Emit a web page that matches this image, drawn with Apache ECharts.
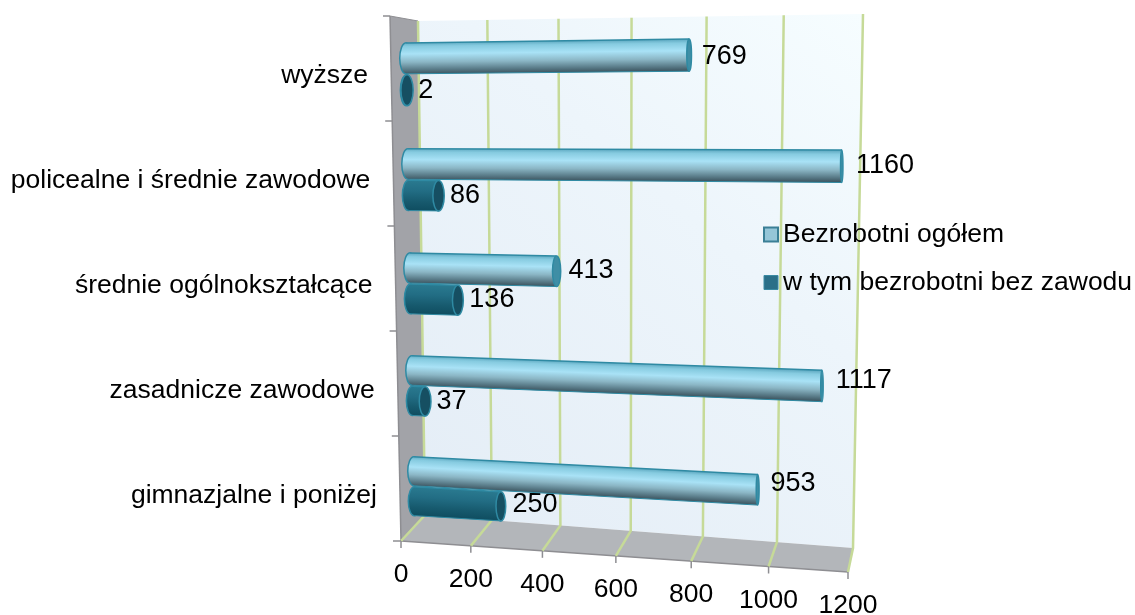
<!DOCTYPE html>
<html>
<head>
<meta charset="utf-8">
<style>html,body{margin:0;padding:0;background:#fff}#main{width:1135px;height:615px}</style>
<script src="https://cdn.jsdelivr.net/npm/echarts@6/dist/echarts.min.js"></script>
</head>
<body>
<div id="main"></div>
<script>
var categories = ['wyższe', 'policealne i średnie zawodowe', 'średnie ogólnokształcące', 'zasadnicze zawodowe', 'gimnazjalne i poniżej'];
var ogolem = [769, 1160, 413, 1117, 953];
var bezZawodu = [2, 86, 136, 37, 250];
var ticks = [0, 200, 400, 600, 800, 1000, 1200];
var FONT = 'Liberation Sans';

// rzut perspektywiczny: kwadrat jednostkowy -> czworokat
function homography(q) {
  var dx1 = q[1][0] - q[2][0], dx2 = q[3][0] - q[2][0], sx = q[0][0] - q[1][0] + q[2][0] - q[3][0];
  var dy1 = q[1][1] - q[2][1], dy2 = q[3][1] - q[2][1], sy = q[0][1] - q[1][1] + q[2][1] - q[3][1];
  var den = dx1 * dy2 - dx2 * dy1;
  var g = (sx * dy2 - dx2 * sy) / den, h = (dx1 * sy - sx * dy1) / den;
  var a = q[1][0] - q[0][0] + g * q[1][0], b = q[3][0] - q[0][0] + h * q[3][0];
  var d = q[1][1] - q[0][1] + g * q[1][1], e = q[3][1] - q[0][1] + h * q[3][1];
  return function (u, v) {
    var w = g * u + h * v + 1;
    return [(a * u + b * v + q[0][0]) / w, (d * u + e * v + q[0][1]) / w];
  };
}
var wallBack = homography([[418, 21], [863, 14], [853, 548], [425, 515]]);
var barPlane = homography([[405, 21], [860, 13], [852, 564], [415, 536]]);
var frontL = [401, 541], frontR = [848, 572];

function norm(params, api, v, cat) {
  var cs = params.coordSys, p = api.coord([v, cat]);
  return [(p[0] - cs.x) / cs.width, (p[1] - cs.y) / cs.height];
}
function frontAt(u) {
  var b0 = wallBack(0, 1)[0], b1 = wallBack(1, 1)[0];
  var f = (wallBack(u, 1)[0] - b0) / (b1 - b0);
  return [frontL[0] + f * (frontR[0] - frontL[0]), frontL[1] + f * (frontR[1] - frontL[1])];
}

var lightStops = [
  {offset: 0, color: '#5fa9c1'}, {offset: 0.12, color: '#86cbe0'}, {offset: 0.36, color: '#a9e2f6'},
  {offset: 0.62, color: '#8bb6c5'}, {offset: 0.85, color: '#5a7c89'}, {offset: 1, color: '#3d5560'}
];
var darkStops = [
  {offset: 0, color: '#2a7a90'}, {offset: 0.35, color: '#226d84'},
  {offset: 0.7, color: '#175a6e'}, {offset: 1, color: '#0f4d60'}
];

function barItem(stops, capFill, shift) {
  return function (params, api) {
    var v = api.value(0), cat = api.value(1);
    var n0 = norm(params, api, 0, cat), n1 = norm(params, api, v, cat);
    var half = 0.145 * api.size([0, 1])[1] / params.coordSys.height;
    var w = n0[1] + shift;
    var lt = barPlane(0, w - half), lb = barPlane(0, w + half);
    var rt = barPlane(n1[0], w - half), rb = barPlane(n1[0], w + half);
    var lc = [(lt[0] + lb[0]) / 2, (lt[1] + lb[1]) / 2], rc = [(rt[0] + rb[0]) / 2, (rt[1] + rb[1]) / 2];
    var hw = Math.max(1.2, 6 * (865 - rc[0]) / 450);
    var lw = 6;
    var mx = (lc[0] + rc[0]) / 2, my = (lc[1] + rc[1]) / 2;
    var h = (lb[1] - lt[1] + rb[1] - rt[1]) / 4;
    var len = Math.max(1, Math.hypot(rc[0] - lc[0], rc[1] - lc[1]));
    var nx = -(rc[1] - lc[1]) / len, ny = (rc[0] - lc[0]) / len;
    var fill = new echarts.graphic.LinearGradient(mx - nx * h, my - ny * h, mx + nx * h, my + ny * h, stops, true);
    var edge = '#2f8aa3';
    return {
      type: 'group',
      children: [
        {type: 'ellipse', shape: {cx: lc[0], cy: lc[1], rx: lw, ry: (lb[1] - lt[1]) / 2},
          style: {fill: fill, stroke: edge, lineWidth: 1.5}},
        {type: 'polygon', shape: {points: [lt, rt, rb, lb]}, style: {fill: fill}},
        {type: 'line', shape: {x1: lt[0], y1: lt[1], x2: rt[0], y2: rt[1]}, style: {stroke: edge, lineWidth: 1.5}},
        {type: 'line', shape: {x1: lb[0], y1: lb[1], x2: rb[0], y2: rb[1]}, style: {stroke: edge, lineWidth: 1}},
        {type: 'ellipse', shape: {cx: rc[0], cy: rc[1], rx: hw, ry: (rb[1] - rt[1]) / 2},
          style: {fill: capFill, stroke: edge, lineWidth: 1.5}},
        {type: 'text', x: rc[0] + hw + 5 + (rc[0] - 400) * 0.018, y: rc[1] - 0.35 * (rc[1] - lc[1]),
          style: {text: String(v), font: '27px "' + FONT + '"', fill: '#000', align: 'left', verticalAlign: 'middle'}}
      ]
    };
  };
}

function renderWalls() {
  var tl = [390, 16];
  return {
    type: 'group',
    children: [
      {type: 'polygon', shape: {points: [wallBack(0, 0), wallBack(1, 0), wallBack(1, 1), wallBack(0, 1)]},
        style: {fill: new echarts.graphic.LinearGradient(425, 515, 863, 14, [
          {offset: 0, color: '#e4edf6'}, {offset: 0.6, color: '#edf5fb'}, {offset: 1, color: '#f6fdff'}], true)}},
      {type: 'polygon', shape: {points: [tl, wallBack(0, 0), wallBack(0, 1), frontL]}, style: {fill: '#a2a3a8'}},
      {type: 'polygon', shape: {points: [frontL, wallBack(0, 1), wallBack(1, 1), frontR]}, style: {fill: '#b3b6ba'}},
      {type: 'line', shape: {x1: tl[0], y1: tl[1], x2: wallBack(0, 0)[0], y2: wallBack(0, 0)[1]}, style: {stroke: '#8e8e92', lineWidth: 1}},
      {type: 'line', shape: {x1: tl[0], y1: tl[1], x2: frontL[0], y2: frontL[1]}, style: {stroke: '#8e8e92', lineWidth: 1.5}},
      {type: 'line', shape: {x1: frontL[0], y1: frontL[1], x2: frontR[0], y2: frontR[1]}, style: {stroke: '#8e8e92', lineWidth: 1.5}}
    ]
  };
}

function renderTick(params, api) {
  var v = api.value(0);
  var u = norm(params, api, v, categories[0])[0];
  var top = wallBack(u, 0), bot = wallBack(u, 1), fr = frontAt(u);
  return {
    type: 'group',
    children: [
      {type: 'polyline', shape: {points: [top, bot, fr]}, style: {fill: 'none', stroke: '#c6da98', lineWidth: 2.5}},
      {type: 'line', shape: {x1: fr[0], y1: fr[1], x2: fr[0], y2: fr[1] + 7}, style: {stroke: '#8e8e92', lineWidth: 1.5}},
      {type: 'text', x: fr[0], y: fr[1] + 34,
        style: {text: String(v), font: '26.5px "' + FONT + '"', fill: '#000', align: 'center', verticalAlign: 'middle'}}
    ]
  };
}

function renderCat(params, api) {
  var cs = params.coordSys;
  var idx = params.dataIndex;
  var n = norm(params, api, 0, idx);
  var band = api.size([0, 1])[1] / cs.height;
  var edgeX = function (w) { return 390 + w * (frontL[0] - 390); };
  var edgeY = function (w) { return 16 + w * (frontL[1] - 16); };
  var topW = n[1] - band / 2;
  var tick = {type: 'line', shape: {x1: edgeX(topW) - 7, y1: edgeY(topW), x2: edgeX(topW), y2: edgeY(topW)},
    style: {stroke: '#8e8e92', lineWidth: 1.5}};
  var children = [tick,
    {type: 'text', x: edgeX(n[1]) - 23, y: edgeY(n[1]) + 7,
      style: {text: categories[idx], font: '26.5px "' + FONT + '"', fill: '#000', align: 'right', verticalAlign: 'middle'}}];
  if (idx === categories.length - 1) {
    children.push({type: 'line', shape: {x1: frontL[0] - 8, y1: frontL[1], x2: frontL[0], y2: frontL[1]},
      style: {stroke: '#8e8e92', lineWidth: 1.5}});
  }
  return {type: 'group', children: children};
}

var myChart = echarts.init(document.getElementById('main'), null, {renderer: 'canvas'});
var option = {
  animation: false,
  grid: {left: 400, right: 280, top: 20, bottom: 60},
  xAxis: {type: 'value', min: 0, max: 1200, interval: 200, show: false},
  yAxis: {type: 'category', data: categories, inverse: true, show: false},
  legend: {
    orient: 'vertical', left: 758, top: 216, itemWidth: 14, itemHeight: 14, itemGap: 21,
    textStyle: {fontFamily: FONT, fontSize: 26.5, color: '#000'},
    selectedMode: false,
    data: [
      {name: 'Bezrobotni ogółem', icon: 'rect', itemStyle: {color: '#95c6d8', borderColor: '#3a7f96', borderWidth: 2}},
      {name: 'w tym bezrobotni bez zawodu', icon: 'rect', itemStyle: {color: '#2a6f88', borderColor: '#3a8aa3', borderWidth: 1}}
    ]
  },
  series: [
    {type: 'custom', name: 'sciany', silent: true, z: 1, data: [0], renderItem: renderWalls, encode: {x: 0}},
    {type: 'custom', name: 'siatka', silent: true, z: 2, data: ticks.map(function (t) { return [t]; }),
      renderItem: renderTick, encode: {x: 0}},
    {type: 'custom', name: 'kategorie', silent: true, z: 2, data: categories.map(function (c, i) { return [i]; }),
      renderItem: renderCat, encode: {y: 0}},
    {type: 'custom', name: 'w tym bezrobotni bez zawodu', z: 3,
      itemStyle: {color: '#2a6f88'},
      data: bezZawodu.map(function (v, i) { return [v, i]; }),
      renderItem: barItem(darkStops, '#164f62', 0.15 * 0.2), encode: {x: 0, y: 1}},
    {type: 'custom', name: 'Bezrobotni ogółem', z: 4,
      itemStyle: {color: '#95c6d8'},
      data: ogolem.map(function (v, i) { return [v, i]; }),
      renderItem: barItem(lightStops, '#3f8ea5', -0.15 * 0.2), encode: {x: 0, y: 1}}
  ]
};
myChart.setOption(option);
</script>
</body>
</html>
